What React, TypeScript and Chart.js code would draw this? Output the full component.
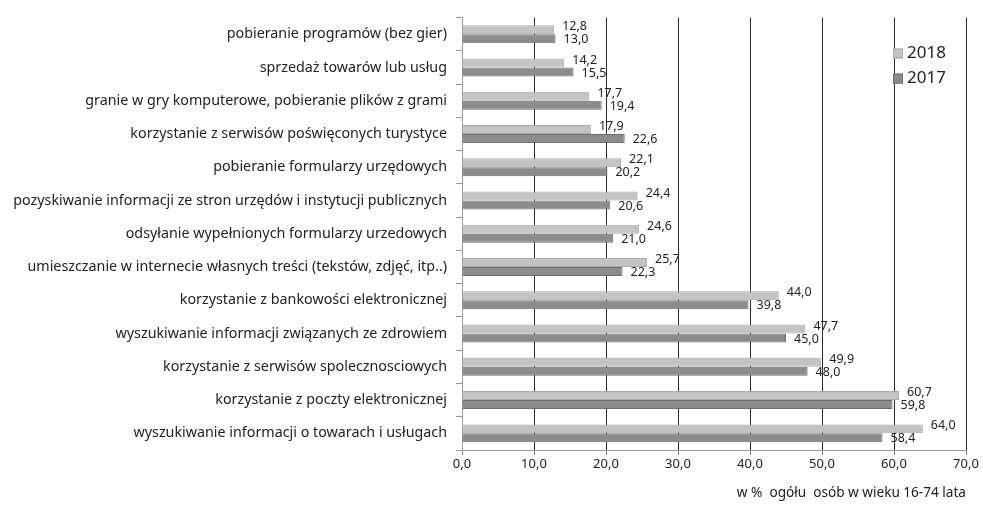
import React, { useEffect, useRef } from 'react';
import { Chart, registerables } from 'chart.js';

Chart.register(...registerables);

const FONT = '"Noto Sans", sans-serif';

const categories = [
  'pobieranie programów (bez gier)',
  'sprzedaż towarów lub usług',
  'granie w gry komputerowe, pobieranie plików z grami',
  'korzystanie z serwisów poświęconych turystyce',
  'pobieranie formularzy urzędowych',
  'pozyskiwanie informacji ze stron urzędów i instytucji publicznych',
  'odsyłanie wypełnionych formularzy urzedowych',
  'umieszczanie w internecie własnych treści (tekstów, zdjęć, itp..)',
  'korzystanie z bankowości elektronicznej',
  'wyszukiwanie informacji związanych ze zdrowiem',
  'korzystanie z serwisów spolecznosciowych',
  'korzystanie z poczty elektronicznej',
  'wyszukiwanie informacji o towarach i usługach',
];

const values2018 = [12.8, 14.2, 17.7, 17.9, 22.1, 24.4, 24.6, 25.7, 44.0, 47.7, 49.9, 60.7, 64.0];
const values2017 = [13.0, 15.5, 19.4, 22.6, 20.2, 20.6, 21.0, 22.3, 39.8, 45.0, 48.0, 59.8, 58.4];

const seriesNames = ['2018', '2017'];
const seriesColors = ['#c4c4c4', '#8c8c8c'];
const seriesBorders = ['#aaaaaa', '#6f6f6f'];

const xMin = 0;
const xMax = 70;
const xStep = 10;
const xTitle = 'w %  ogółu  osób w wieku 16-74 lata';

const fmt = (v: number) => v.toFixed(1).replace('.', ',');

const valueLabelPlugin = {
  id: 'valueLabels',
  afterDatasetsDraw(chart: any) {
    const ctx = chart.ctx;
    ctx.save();
    ctx.font = `12.5px ${FONT}`;
    ctx.fillStyle = '#222';
    ctx.textBaseline = 'middle';
    ctx.textAlign = 'left';
    chart.data.datasets.forEach((ds: any, di: number) => {
      const meta = chart.getDatasetMeta(di);
      meta.data.forEach((bar: any, i: number) => {
        const dy = di === 0 ? -3 : 1;
        ctx.fillText(fmt(ds.data[i]), bar.x + 8, bar.y + dy);
      });
    });
    ctx.restore();
  },
};

const legendPlugin = {
  id: 'customLegend',
  afterDraw(chart: any) {
    const { ctx, chartArea } = chart;
    ctx.save();
    ctx.font = `17px ${FONT}`;
    ctx.textBaseline = 'middle';
    ctx.textAlign = 'left';
    seriesNames.forEach((name, i) => {
      const x = chartArea.right - 73;
      const y = chartArea.top + 36 + i * 25;
      ctx.fillStyle = seriesColors[i];
      ctx.strokeStyle = seriesBorders[i];
      ctx.lineWidth = 1;
      ctx.fillRect(x, y - 5, 10, 10);
      ctx.strokeRect(x + 0.5, y - 4.5, 9, 9);
      ctx.fillStyle = '#222';
      ctx.fillText(name, x + 14, y);
    });
    ctx.restore();
  },
};

export default function App() {
  const ref = useRef<HTMLCanvasElement>(null);

  useEffect(() => {
    if (!ref.current) return;
    const chart = new Chart(ref.current, {
      type: 'bar',
      data: {
        labels: categories,
        datasets: [
          {
            label: seriesNames[0],
            data: values2018,
            backgroundColor: seriesColors[0],
            borderColor: seriesBorders[0],
            borderWidth: 1,
          },
          {
            label: seriesNames[1],
            data: values2017,
            backgroundColor: seriesColors[1],
            borderColor: seriesBorders[1],
            borderWidth: 1,
          },
        ],
      },
      options: {
        indexAxis: 'y',
        responsive: false,
        animation: false,
        datasets: {
          bar: { categoryPercentage: 0.54, barPercentage: 1.0 },
        },
        layout: { padding: { top: 13, right: 17, bottom: 0, left: 0 } },
        plugins: {
          legend: { display: false },
          tooltip: { enabled: false },
        },
        scales: {
          x: {
            type: 'linear',
            position: 'bottom',
            min: xMin,
            max: xMax,
            ticks: {
              stepSize: xStep,
              callback: (v: any) => fmt(Number(v)),
              font: { family: FONT, size: 13 },
              color: '#222',
              padding: 1,
            },
            grid: {
              color: (c: any) => (c.tick && c.tick.value === 0 ? '#9a9a9a' : '#2a2a2a'),
              tickColor: '#888',
              tickLength: 5,
              lineWidth: 1,
            },
            border: { display: true, color: '#9a9a9a' },
            title: {
              display: true,
              text: xTitle,
              align: 'end',
              color: '#222',
              font: { family: FONT, size: 13.6 },
              padding: { top: 0, bottom: 6 },
            },
            afterFit: (s: any) => {
              s.height = 57;
            },
          },
          y: {
            ticks: {
              font: { family: FONT, size: 14.3 },
              color: '#222',
              padding: 9,
              autoSkip: false,
            },
            grid: {
              offset: true,
              drawOnChartArea: false,
              color: '#999',
              tickLength: 6,
            },
            border: { display: true, color: '#9a9a9a' },
            afterFit: (s: any) => {
              s.width = 462;
            },
          },
        },
      },
      plugins: [valueLabelPlugin, legendPlugin],
    });
    return () => chart.destroy();
  }, []);

  return (
    <div style={{ position: 'absolute', left: 0, top: 0, width: 983, height: 507, background: '#fff' }}>
      <canvas ref={ref} width={983} height={507} />
    </div>
  );
}
